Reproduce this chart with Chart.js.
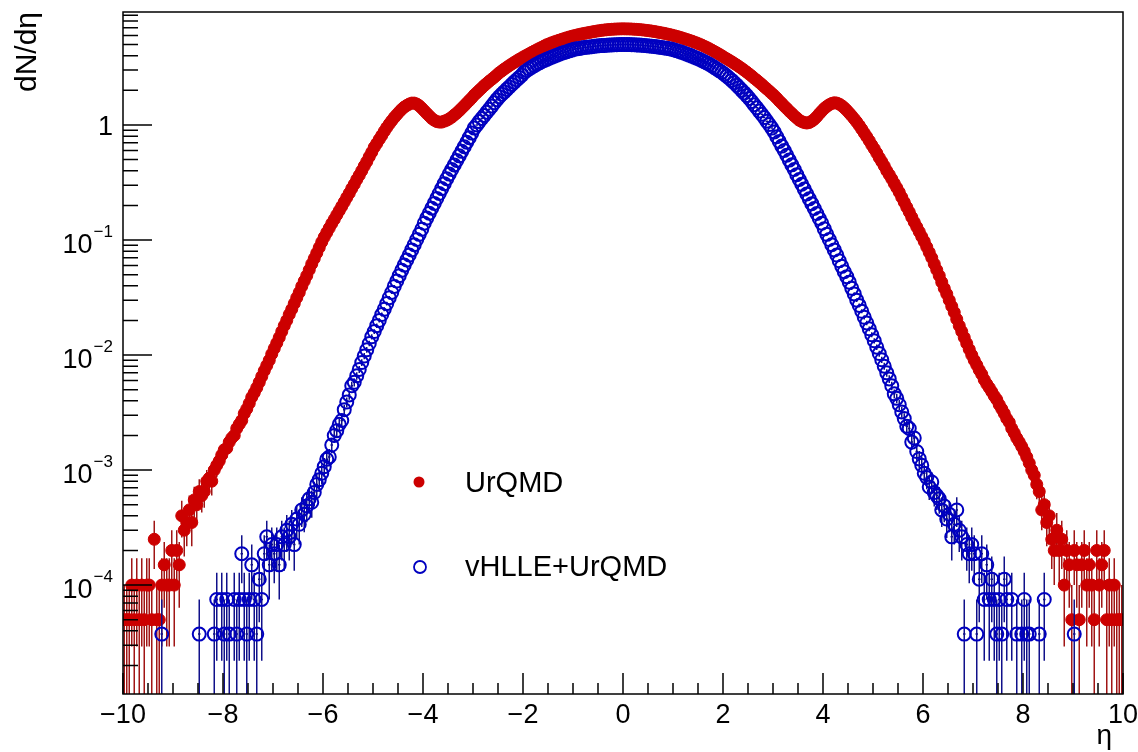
<!DOCTYPE html>
<html>
<head>
<meta charset="utf-8">
<title>dN/dη</title>
<script src="https://cdn.jsdelivr.net/npm/chart.js@4.4.1/dist/chart.umd.min.js"></script>
<style>
  html, body { margin: 0; padding: 0; background: #fff; }
  canvas { display: block; }
</style>
</head>
<body>
<canvas id="etaChart" width="1138" height="752"></canvas>
<script>
// binning of both histograms: 400 bins of 0.05 in eta
var etaMin = -10, etaMax = 10, binWidth = 0.05;

var xTickValues = [-10, -8, -6, -4, -2, 0, 2, 4, 6, 8, 10];
var xTickLabels = ['\u221210', '\u22128', '\u22126', '\u22124', '\u22122', '0', '2', '4', '6', '8', '10'];
var yLabelValues = [1, 0.1, 0.01, 0.001, 0.0001];
var yLabelExps = ['', '\u22121', '\u22122', '\u22123', '\u22124'];

// one entry in a bin (sets the statistical error bars)
var urqmdUnit = 5e-5;
var vhlleUnit = 3.75e-5;

// UrQMD, dN/deta per bin, one line = one unit of eta
var urqmd = [
  5e-5, 5e-5, 5e-5, 1e-4, 5e-5, 1e-4, 5e-5, 1e-4, 5e-5, 1e-4, 1e-4, 5e-5, 2.5e-4, 5e-5, 5e-5, 1e-4, 1.5e-4, 1e-4, 1e-4, 2e-4,   // -10
  1e-4, 2e-4, 1.5e-4, 4e-4, 3e-4, 3.5e-4, 4.5e-4, 3.5e-4, 5.5e-4, 5e-4, 6.5e-4, 6e-4, 6.5e-4, 8e-4, 8.5e-4, 8e-4, 1e-3, 1.1e-3, 1.2e-3, 1.35e-3,   // -9
  1.5e-3, 1.55e-3, 1.75e-3, 1.9e-3, 2.0e-3, 2.3e-3, 2.5e-3, 2.7e-3, 3.1e-3, 3.4e-3, 3.8e-3, 4.3e-3, 4.7e-3, 5.2e-3, 5.8e-3, 6.5e-3, 7.3e-3, 8.1e-3, 9.0e-3, 1.02e-2,   // -8
  1.14e-2, 1.27e-2, 1.42e-2, 1.6e-2, 1.8e-2, 2.0e-2, 2.25e-2, 2.5e-2, 2.8e-2, 3.15e-2, 3.5e-2, 3.95e-2, 4.4e-2, 4.9e-2, 5.5e-2, 6.2e-2, 6.9e-2, 7.7e-2, 8.6e-2, 9.6e-2,   // -7
  0.106, 0.116, 0.127, 0.139, 0.151, 0.165, 0.18, 0.196, 0.214, 0.234, 0.255, 0.28, 0.305, 0.335, 0.365, 0.4, 0.44, 0.48, 0.53, 0.58,   // -6
  0.64, 0.69, 0.75, 0.81, 0.88, 0.95, 1.02, 1.09, 1.16, 1.23, 1.3, 1.37, 1.43, 1.48, 1.52, 1.55, 1.55, 1.52, 1.47, 1.4,   // -5
  1.33, 1.26, 1.2, 1.14, 1.1, 1.07, 1.06, 1.06, 1.08, 1.1, 1.13, 1.17, 1.22, 1.27, 1.33, 1.4, 1.47, 1.55, 1.63, 1.72,   // -4
  1.82, 1.91, 2.0, 2.1, 2.2, 2.3, 2.4, 2.5, 2.6, 2.72, 2.84, 2.95, 3.06, 3.17, 3.28, 3.39, 3.5, 3.61, 3.72, 3.83,   // -3
  3.94, 4.05, 4.16, 4.28, 4.39, 4.5, 4.62, 4.74, 4.86, 4.98, 5.08, 5.18, 5.28, 5.37, 5.46, 5.55, 5.64, 5.73, 5.82, 5.9,   // -2
  5.98, 6.05, 6.12, 6.19, 6.25, 6.31, 6.37, 6.43, 6.49, 6.55, 6.6, 6.65, 6.69, 6.73, 6.76, 6.79, 6.81, 6.83, 6.84, 6.85,   // -1
  6.85, 6.84, 6.84, 6.82, 6.8, 6.78, 6.75, 6.72, 6.68, 6.64, 6.6, 6.55, 6.5, 6.44, 6.38, 6.32, 6.26, 6.19, 6.12, 6.05,   // 0
  5.97, 5.89, 5.81, 5.72, 5.63, 5.54, 5.45, 5.36, 5.26, 5.16, 5.06, 4.95, 4.84, 4.72, 4.6, 4.48, 4.36, 4.24, 4.12, 4.0,   // 1
  3.87, 3.76, 3.65, 3.54, 3.43, 3.32, 3.21, 3.1, 2.99, 2.88, 2.77, 2.66, 2.55, 2.45, 2.35, 2.25, 2.15, 2.06, 1.97, 1.88,   // 2
  1.8, 1.71, 1.62, 1.54, 1.46, 1.39, 1.32, 1.26, 1.2, 1.15, 1.1, 1.07, 1.05, 1.04, 1.05, 1.08, 1.12, 1.18, 1.25, 1.32,   // 3
  1.39, 1.45, 1.5, 1.54, 1.56, 1.55, 1.52, 1.47, 1.41, 1.34, 1.27, 1.2, 1.13, 1.06, 0.99, 0.92, 0.85, 0.79, 0.73, 0.67,   // 4
  0.62, 0.57, 0.52, 0.48, 0.44, 0.4, 0.37, 0.34, 0.31, 0.285, 0.26, 0.235, 0.213, 0.193, 0.175, 0.158, 0.143, 0.13, 0.118, 0.107,   // 5
  9.7e-2, 8.7e-2, 7.8e-2, 7.0e-2, 6.2e-2, 5.5e-2, 4.9e-2, 4.3e-2, 3.8e-2, 3.4e-2, 3.0e-2, 2.65e-2, 2.35e-2, 2.05e-2, 1.8e-2, 1.6e-2, 1.42e-2, 1.26e-2, 1.12e-2, 1.0e-2,   // 6
  9.0e-3, 8.2e-3, 7.4e-3, 6.8e-3, 6.1e-3, 5.6e-3, 5.2e-3, 4.8e-3, 4.4e-3, 4.1e-3, 3.7e-3, 3.4e-3, 3.1e-3, 2.8e-3, 2.6e-3, 2.3e-3, 2.1e-3, 1.9e-3, 1.75e-3, 1.6e-3,   // 7
  1.45e-3, 1.3e-3, 1.15e-3, 1.0e-3, 9e-4, 7.5e-4, 6.5e-4, 4.5e-4, 5e-4, 3.5e-4, 4e-4, 2.5e-4, 2e-4, 3e-4, 2e-4, 2.5e-4, 1e-4, 2e-4, 1.5e-4, 5e-5,   // 8
  2e-4, 1.5e-4, 5e-5, 1.5e-4, 2e-4, 1e-4, 1.5e-4, 1e-4, 5e-5, 2e-4, 1e-4, 1.5e-4, 2e-4, 5e-5, 1e-4, 5e-5, 1e-4, 5e-5, 5e-5, 5e-5    // 9
];

// vHLLE+UrQMD, dN/deta per bin (null = empty bin)
var vhlle = [
  null, null, null, null, null, null, null, null, null, null, null, null, null, null, null, 3.75e-5, null, null, null, null,   // -10
  null, null, null, null, null, null, null, null, null, null, 3.75e-5, null, null, null, null, null, 3.75e-5, 7.5e-5, null, 7.5e-5,   // -9
  3.75e-5, 7.5e-5, 3.75e-5, null, 7.5e-5, 3.75e-5, 7.5e-5, 1.875e-4, 7.5e-5, 3.75e-5, 7.5e-5, 1.5e-4, 7.5e-5, 3.75e-5, 1.125e-4, 7.5e-5, 1.875e-4, 2.625e-4, 1.5e-4, 2.25e-4,   // -8
  1.875e-4, 2.25e-4, 1.5e-4, 2.625e-4, 2.25e-4, 3e-4, 2.625e-4, 3.375e-4, 2.25e-4, 3.75e-4, 3.375e-4, 4.5e-4, 4.125e-4, 4.875e-4, 5.625e-4, 5.25e-4, 6.375e-4, 7.5e-4, 8.25e-4, 9.375e-4,   // -7
  1.07e-3, 1.24e-3, 1.3e-3, 1.65e-3, 2.0e-3, 2.2e-3, 2.5e-3, 2.7e-3, 3.35e-3, 3.9e-3, 4.5e-3, 5.4e-3, 5.8e-3, 6.6e-3, 7.5e-3, 8.6e-3, 9.8e-3, 1.11e-2, 1.26e-2, 1.44e-2,   // -6
  1.6e-2, 1.8e-2, 2.0e-2, 2.25e-2, 2.5e-2, 2.8e-2, 3.15e-2, 3.5e-2, 3.95e-2, 4.4e-2, 4.9e-2, 5.45e-2, 6.05e-2, 6.7e-2, 7.4e-2, 8.2e-2, 9.1e-2, 0.101, 0.112, 0.124,   // -5
  0.14, 0.155, 0.171, 0.189, 0.208, 0.23, 0.254, 0.28, 0.309, 0.341, 0.374, 0.41, 0.449, 0.492, 0.539, 0.59, 0.647, 0.708, 0.776, 0.85,   // -4
  0.94, 1.0, 1.07, 1.14, 1.21, 1.29, 1.37, 1.46, 1.56, 1.66, 1.76, 1.85, 1.94, 2.04, 2.14, 2.25, 2.36, 2.47, 2.59, 2.71,   // -3
  2.88, 2.98, 3.08, 3.18, 3.28, 3.38, 3.47, 3.56, 3.64, 3.72, 3.8, 3.88, 3.96, 4.04, 4.12, 4.2, 4.27, 4.34, 4.41, 4.48,   // -2
  4.55, 4.59, 4.63, 4.67, 4.71, 4.74, 4.77, 4.8, 4.83, 4.86, 4.88, 4.9, 4.92, 4.94, 4.96, 4.97, 4.98, 4.99, 5.0, 5.01,   // -1
  5.01, 5.0, 5.0, 4.99, 4.98, 4.96, 4.95, 4.93, 4.91, 4.89, 4.87, 4.84, 4.81, 4.78, 4.75, 4.72, 4.68, 4.64, 4.6, 4.56,   // 0
  4.49, 4.42, 4.35, 4.28, 4.21, 4.13, 4.05, 3.97, 3.89, 3.81, 3.73, 3.64, 3.55, 3.46, 3.37, 3.27, 3.17, 3.07, 2.97, 2.87,   // 1
  2.77, 2.66, 2.55, 2.44, 2.33, 2.22, 2.11, 2.0, 1.9, 1.8, 1.7, 1.6, 1.5, 1.41, 1.32, 1.24, 1.16, 1.08, 1.01, 0.94,   // 2
  0.87, 0.79, 0.72, 0.655, 0.6, 0.545, 0.495, 0.45, 0.41, 0.37, 0.336, 0.305, 0.277, 0.251, 0.228, 0.207, 0.188, 0.17, 0.154, 0.14,   // 3
  0.125, 0.112, 0.101, 0.091, 0.082, 0.074, 0.066, 0.059, 0.053, 0.048, 0.043, 0.038, 0.034, 0.03, 0.027, 0.024, 0.0213, 0.019, 0.0169, 0.015,   // 4
  1.33e-2, 1.17e-2, 1.03e-2, 9.1e-3, 8.0e-3, 7.0e-3, 6.2e-3, 5.4e-3, 4.6e-3, 4.2e-3, 3.7e-3, 3.2e-3, 2.8e-3, 2.4e-3, 2.3e-3, 1.75e-3, 1.9e-3, 1.45e-3, 1.25e-3, 1.1e-3,   // 5
  9.375e-4, 8.625e-4, 7.125e-4, 7.875e-4, 6.375e-4, 6e-4, 5.625e-4, 4.5e-4, 4.875e-4, 3.75e-4, 4.125e-4, 2.625e-4, 3.375e-4, 4.5e-4, 3e-4, 2.625e-4, 3.75e-5, 2.25e-4, 1.875e-4, 2.25e-4,   // 6
  1.875e-4, 3.75e-5, 1.125e-4, 1.875e-4, 7.5e-5, 1.5e-4, 7.5e-5, 1.125e-4, 7.5e-5, 3.75e-5, 7.5e-5, 3.75e-5, 1.125e-4, 7.5e-5, null, 7.5e-5, null, 3.75e-5, null, 3.75e-5,   // 7
  7.5e-5, 3.75e-5, 3.75e-5, null, null, null, 3.75e-5, null, 7.5e-5, null, null, null, null, null, null, null, null, null, null, null,   // 8
  3.75e-5, null, null, null, null, null, null, null, null, null, null, null, null, null, null, null, null, null, null, null    // 9
];

var textFont = '"Liberation Sans", Arial, Helvetica, sans-serif';

function toPoints(values) {
  var pts = [];
  for (var i = 0; i < values.length; i++) {
    if (values[i] === null) continue;
    pts.push({ x: etaMin + binWidth * (i + 0.5), y: values[i] });
  }
  return pts;
}

// sqrt(N) error bars, drawn just before each dataset's markers
var errorBars = {
  id: 'errorBars',
  beforeDatasetDraw: function (chart, args) {
    var ds = chart.data.datasets[args.index];
    var xs = chart.scales.x, ys = chart.scales.y, area = chart.chartArea;
    var ctx = chart.ctx;
    ctx.save();
    ctx.beginPath();
    ctx.rect(area.left, area.top, area.right - area.left, area.bottom - area.top);
    ctx.clip();
    ctx.strokeStyle = ds.errorColor;
    ctx.lineWidth = 1.5;
    ctx.beginPath();
    ds.data.forEach(function (p) {
      var err = Math.sqrt(p.y * ds.unit);
      var px = xs.getPixelForValue(p.x);
      var py = ys.getPixelForValue(p.y);
      var top = ys.getPixelForValue(p.y + err);
      var lo = p.y - err;
      var bot = lo > ys.min ? ys.getPixelForValue(lo) : area.bottom;
      ctx.moveTo(px, top);
      ctx.lineTo(px, bot);
      ctx.moveTo(xs.getPixelForValue(p.x - binWidth / 2), py);
      ctx.lineTo(xs.getPixelForValue(p.x + binWidth / 2), py);
    });
    ctx.stroke();
    ctx.restore();
  }
};

// ROOT-like frame, inside ticks, labels and legend
var rootFrame = {
  id: 'rootFrame',
  afterDraw: function (chart) {
    var ctx = chart.ctx, area = chart.chartArea;
    var xs = chart.scales.x, ys = chart.scales.y;
    ctx.save();
    ctx.strokeStyle = '#000';
    ctx.fillStyle = '#000';
    ctx.lineWidth = 1.5;
    ctx.strokeRect(area.left, area.top, area.right - area.left, area.bottom - area.top);

    // x ticks
    ctx.beginPath();
    for (var t = etaMin; t <= etaMax + 1e-9; t += 0.5) {
      var px = xs.getPixelForValue(t);
      var major = Math.abs(t / 2 - Math.round(t / 2)) < 1e-6;
      ctx.moveTo(px, area.bottom);
      ctx.lineTo(px, area.bottom - (major ? 21 : 11));
    }
    // y ticks
    for (var d = -6; d <= 1; d++) {
      for (var m = 1; m <= 9; m++) {
        var v = m * Math.pow(10, d);
        if (v < ys.min || v > ys.max) continue;
        var py = ys.getPixelForValue(v);
        ctx.moveTo(area.left, py);
        ctx.lineTo(area.left + (m === 1 ? 29 : 15), py);
      }
    }
    ctx.stroke();

    // x labels
    ctx.font = '27px ' + textFont;
    ctx.textAlign = 'center';
    ctx.textBaseline = 'alphabetic';
    xTickValues.forEach(function (v, i) {
      ctx.fillText(xTickLabels[i], xs.getPixelForValue(v), 723);
    });

    // y labels with exponents
    var rightEdge = area.left - 10;
    yLabelValues.forEach(function (v, i) {
      var py = ys.getPixelForValue(v);
      if (yLabelExps[i] === '') {
        ctx.font = '27px ' + textFont;
        ctx.textAlign = 'right';
        ctx.fillText('1', rightEdge, py + 10);
      } else {
        ctx.font = '17px ' + textFont;
        var w = ctx.measureText(yLabelExps[i]).width;
        ctx.textAlign = 'left';
        ctx.fillText(yLabelExps[i], rightEdge - w, py - 3);
        ctx.font = '27px ' + textFont;
        ctx.textAlign = 'right';
        ctx.fillText('10', rightEdge - w - 1, py + 13);
      }
    });

    // axis titles
    ctx.font = '28px ' + textFont;
    ctx.textAlign = 'right';
    ctx.fillText('\u03b7', 1112, 744);
    ctx.save();
    ctx.translate(28, area.top);
    ctx.rotate(-Math.PI / 2);
    ctx.font = '30px ' + textFont;
    ctx.textAlign = 'right';
    ctx.textBaseline = 'middle';
    ctx.fillText('dN/d\u03b7', 0, 0);
    ctx.restore();

    // legend
    var sets = chart.data.datasets;
    ctx.font = '29px ' + textFont;
    ctx.textAlign = 'left';
    ctx.textBaseline = 'middle';
    ctx.beginPath();
    ctx.arc(419, 482, 5.5, 0, 2 * Math.PI);
    ctx.fillStyle = sets[0].backgroundColor;
    ctx.fill();
    ctx.beginPath();
    ctx.arc(420, 567, 6, 0, 2 * Math.PI);
    ctx.lineWidth = 1.8;
    ctx.strokeStyle = sets[1].borderColor;
    ctx.stroke();
    ctx.fillStyle = '#000';
    ctx.fillText(sets[0].label, 465, 484);
    ctx.fillText(sets[1].label, 465, 568);
    ctx.restore();
  }
};

new Chart(document.getElementById('etaChart'), {
  type: 'scatter',
  data: {
    datasets: [
      {
        label: 'UrQMD',
        data: toPoints(urqmd),
        unit: urqmdUnit,
        errorColor: '#a01515',
        backgroundColor: '#cc0000',
        borderColor: '#cc0000',
        pointRadius: 6,
        pointBorderWidth: 1,
        showLine: false,
        order: 2
      },
      {
        label: 'vHLLE+UrQMD',
        data: toPoints(vhlle),
        unit: vhlleUnit,
        errorColor: '#10108a',
        backgroundColor: 'rgba(0,0,0,0)',
        borderColor: '#0000c0',
        pointRadius: 6.5,
        pointBorderWidth: 2,
        showLine: false,
        order: 1
      }
    ]
  },
  options: {
    responsive: false,
    animation: false,
    layout: { padding: { left: 123, right: 15, top: 12, bottom: 58 } },
    plugins: {
      legend: { display: false },
      tooltip: { enabled: false }
    },
    scales: {
      x: { type: 'linear', min: etaMin, max: etaMax, display: false },
      y: { type: 'logarithmic', min: 1.13e-5, max: 9.6, display: false }
    }
  },
  plugins: [errorBars, rootFrame]
});
</script>
</body>
</html>
